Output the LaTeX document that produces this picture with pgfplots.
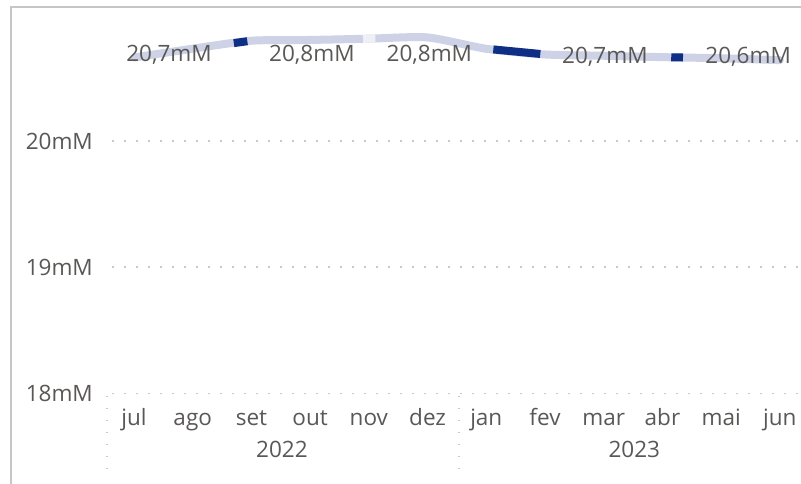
\documentclass[border=0pt]{standalone}
\usepackage{fontspec}
\setmainfont{Open Sans}
\usepackage{pgfplots}
\pgfplotsset{compat=1.18}
\definecolor{txt}{HTML}{5A5856}
\definecolor{lineL}{HTML}{CDD2E6}
\definecolor{lineD}{HTML}{0F2F87}
\definecolor{lineW}{HTML}{EEF0F6}
\definecolor{gridc}{HTML}{C8C8C8}
\definecolor{framec}{HTML}{C6C6C6}
\begin{document}
\begin{tikzpicture}[font=\fontsize{22.6}{26}\selectfont]
\useasboundingbox (0,0) rectangle (801bp,-484bp);
\draw[framec, line width=2bp] (11bp,-484bp) -- (11bp,-7bp) -- (801bp,-7bp);
\begin{axis}[
  at={(107bp,-393.5bp)}, anchor=south west,
  scale only axis, width=694bp, height=386.5bp,
  xmin=-0.46, xmax=11.36, ymin=18, ymax=21.061,
  axis line style={draw=none}, major tick length=0pt,
  ytick={18,19,20}, yticklabels={18mM,19mM,20mM},
  xtick={0,...,11},
  xticklabels={jul,ago,set,out,nov,dez,jan,fev,mar,abr,mai,jun},
  ymajorgrids,
  grid style={gridc, line width=1.5bp, dash pattern=on 1.5bp off 10.5bp, dash phase=-5bp},
  tick label style={txt},
  yticklabel style={anchor=east, inner sep=0pt, xshift=-14bp},
  xticklabel style={anchor=base, inner sep=0pt, yshift=-31.5bp},
  clip=false]
\addplot[lineL, line width=8bp, line cap=round, smooth, tension=0.4] coordinates {
(0,20.661)(1,20.731)(2,20.794)(3,20.800)(4,20.810)(5,20.820)
(6,20.730)(7,20.685)(8,20.675)(9,20.664)(10,20.655)(11,20.640)};
\addplot[lineD, line width=8bp] coordinates {(1.70,20.775)(1.93,20.790)};
\addplot[lineW, line width=8bp] coordinates {(3.90,20.809)(4.11,20.811)};
\addplot[lineD, line width=8bp] coordinates {(6.12,20.725)(6.92,20.689)};
\addplot[lineD, line width=8bp] coordinates {(9.15,20.663)(9.35,20.661)};
\node[txt, anchor=base, inner sep=0pt] at (axis cs:0.596,20.630) {20,7mM};
\node[txt, anchor=base, inner sep=0pt] at (axis cs:3.03,20.630) {20,8mM};
\node[txt, anchor=base, inner sep=0pt] at (axis cs:5.03,20.630) {20,8mM};
\node[txt, anchor=base, inner sep=0pt] at (axis cs:8.02,20.610) {20,7mM};
\node[txt, anchor=base, inner sep=0pt] at (axis cs:10.46,20.610) {20,6mM};
\node[txt, anchor=base, inner sep=0pt] at ([yshift=-63.5bp]axis cs:2.52,18) {2022};
\node[txt, anchor=base, inner sep=0pt] at ([yshift=-63.5bp]axis cs:8.52,18) {2023};
\draw[gridc, line width=1.5bp, dash pattern=on 1.5bp off 10.5bp] ([yshift=-2bp]axis cs:-0.46,18) -- ([yshift=-78bp]axis cs:-0.46,18);
\draw[gridc, line width=1.5bp, dash pattern=on 1.5bp off 10.5bp] ([yshift=-2bp,xshift=2bp]axis cs:5.5,18) -- ([yshift=-78bp,xshift=2bp]axis cs:5.5,18);
\end{axis}
\end{tikzpicture}
\end{document}
